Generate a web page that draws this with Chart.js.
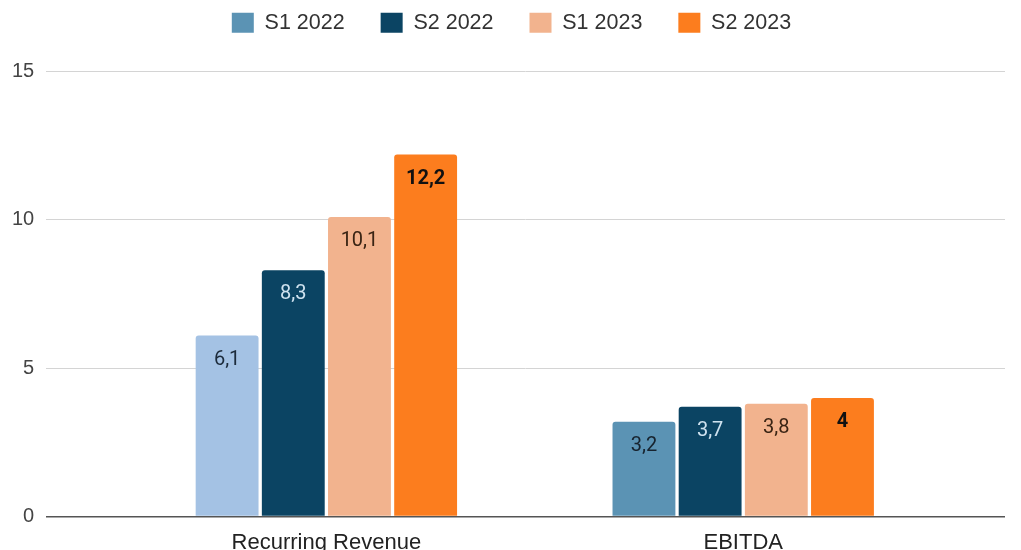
<!DOCTYPE html>
<html>
<head>
<meta charset="utf-8">
<script src="https://cdn.jsdelivr.net/npm/chart.js@4.4.1/dist/chart.umd.min.js"></script>
<style>
  html, body { margin: 0; padding: 0; background: #fff; overflow: hidden; }
  #chart { display: block; }
</style>
</head>
<body>
<canvas id="chart" width="1021" height="550"></canvas>
<script>
const categories = ['Recurring Revenue', 'EBITDA'];
const seriesNames = ['S1 2022', 'S2 2022', 'S1 2023', 'S2 2023'];
const s1_2022 = [6.1, 3.2];
const s2_2022 = [8.3, 3.7];
const s1_2023 = [10.1, 3.8];
const s2_2023 = [12.2, 4];
const yTicks = [0, 5, 10, 15];

// colours per series (first series has a lighter bar in the first category)
const barColors = [['#a4c2e4', '#5b93b4'], '#0b4463', '#f2b38e', '#fc7d1e'];
const legendColors = ['#5b93b4', '#0b4463', '#f2b38e', '#fc7d1e'];
const labelColors = [['#1c2b3b', '#17232e'], '#cfe2ef', '#3a2414', '#111111'];

const allSeries = [s1_2022, s2_2022, s1_2023, s2_2023];

const datasets = allSeries.map(function (vals, k) {
    return {
        label: seriesNames[k],
        data: vals.map(function (v, i) { return {x: i, y: v}; }),
        backgroundColor: barColors[k],
        borderRadius: 3,
        borderSkipped: 'bottom',
        categoryPercentage: 0.635,
        barPercentage: 0.95
    };
});

const valueLabels = {
    id: 'valueLabels',
    afterDatasetsDraw(chart) {
        const ctx = chart.ctx;
        ctx.save();
        ctx.textAlign = 'center';
        ctx.textBaseline = 'middle';
        chart.data.datasets.forEach(function (ds, k) {
            const meta = chart.getDatasetMeta(k);
            meta.data.forEach(function (bar, i) {
                const v = allSeries[k][i];
                const c = Array.isArray(labelColors[k]) ? labelColors[k][i] : labelColors[k];
                ctx.fillStyle = c;
                ctx.font = (k === 3 ? 'bold ' : '') + '20px Roboto, "Liberation Sans", Arial, sans-serif';
                ctx.fillText(String(v).replace('.', ','), bar.x, bar.y + 24);
            });
        });
        ctx.restore();
    }
};

// extra room under the legend, and nudge it a little to the right
const legendGap = {
    id: 'legendGap',
    beforeInit(chart) {
        const lg = chart.legend;
        const fit = lg.fit;
        lg.fit = function () {
            fit.call(lg);
            this.height += 28;
        };
        const draw = lg.draw;
        lg.draw = function (area) {
            const l = this.left;
            this.left = l + 18;
            draw.call(lg, area);
            this.left = l;
        };
    }
};

new Chart(document.getElementById('chart'), {
    type: 'bar',
    data: {datasets: datasets},
    options: {
        responsive: false,
        animation: false,
        layout: {padding: {top: -24, left: 0, right: 16, bottom: -19}},
        plugins: {
            tooltip: {enabled: false},
            legend: {
                position: 'top',
                labels: {
                    boxWidth: 22,
                    boxHeight: 20,
                    padding: 36,
                    color: '#333',
                    font: {family: '"Liberation Sans", Arial, sans-serif', size: 21.5},
                    generateLabels: function (chart) {
                        return seriesNames.map(function (n, k) {
                            return {text: n, fillStyle: legendColors[k], strokeStyle: legendColors[k], lineWidth: 0, datasetIndex: k, fontColor: '#333'};
                        });
                    }
                }
            }
        },
        scales: {
            x: {
                type: 'linear',
                offset: false,
                min: -0.672,
                max: 1.628,
                afterBuildTicks: function (axis) {
                    axis.ticks = categories.map(function (c, i) { return {value: i}; });
                },
                ticks: {
                    padding: 13,
                    color: '#222',
                    maxRotation: 0,
                    font: {family: '"Liberation Sans", Arial, sans-serif', size: 22},
                    callback: function (v) { return categories[v]; }
                },
                grid: {display: false, drawTicks: false, offset: false},
                border: {display: false}
            },
            y: {
                min: 0,
                max: 15,
                afterBuildTicks: function (axis) {
                    axis.ticks = yTicks.map(function (v) { return {value: v}; });
                },
                ticks: {
                    padding: 12,
                    color: '#444',
                    font: {family: '"Liberation Sans", Arial, sans-serif', size: 20}
                },
                grid: {
                    drawTicks: false,
                    color: function (c) { return c.tick && c.tick.value === 0 ? '#555' : '#d4d4d4'; },
                    lineWidth: function (c) { return c.tick && c.tick.value === 0 ? 1.5 : 1; }
                },
                border: {display: false}
            }
        }
    },
    plugins: [valueLabels, legendGap]
});
</script>
</body>
</html>
